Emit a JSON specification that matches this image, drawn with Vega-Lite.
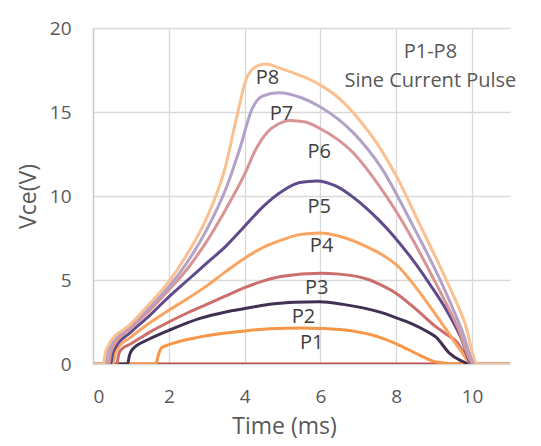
{
"$schema":"https://vega.github.io/schema/vega-lite/v6.json",
"width":417,"height":336,
"autosize":{"type":"none"},
"padding":{"left":93,"top":28,"right":31,"bottom":82},
"background":"white",
"config":{"view":{"stroke":null},"font":"Open Sans",
 "axis":{"gridColor":"#d9d9d9","gridWidth":1.3,"tickSize":0,"labelFontSize":19,"labelColor":"#595959","titleFontSize":23,"titleFontWeight":"normal","titleColor":"#595959","labelFont":"Open Sans","titleFont":"Open Sans"}},
"datasets":{
"curves":[
{"s":"S0","t":0,"v":0},{"s":"S0","t":11,"v":0},
{"s":"S1","t":0,"v":0},{"s":"S1","t":1.66,"v":0},{"s":"S1","t":1.72,"v":0.5},{"s":"S1","t":1.8,"v":0.95},{"s":"S1","t":2,"v":1.15},{"s":"S1","t":2.8,"v":1.6},{"s":"S1","t":3.5,"v":1.85},{"s":"S1","t":4,"v":1.97},{"s":"S1","t":4.66,"v":2.1},{"s":"S1","t":5.5,"v":2.15},{"s":"S1","t":6,"v":2.12},{"s":"S1","t":6.8,"v":1.98},{"s":"S1","t":7.55,"v":1.6},{"s":"S1","t":8.1,"v":1.1},{"s":"S1","t":8.6,"v":0.55},{"s":"S1","t":9.05,"v":0.12},{"s":"S1","t":9.5,"v":0.02},{"s":"S1","t":10,"v":0},{"s":"S1","t":11,"v":0},
{"s":"S2","t":0,"v":0},{"s":"S2","t":0.91,"v":0},{"s":"S2","t":0.96,"v":0.5},{"s":"S2","t":1.03,"v":0.85},{"s":"S2","t":1.5,"v":1.5},{"s":"S2","t":2,"v":2.0},{"s":"S2","t":2.8,"v":2.7},{"s":"S2","t":3.5,"v":3.1},{"s":"S2","t":4,"v":3.3},{"s":"S2","t":4.66,"v":3.55},{"s":"S2","t":5.3,"v":3.68},{"s":"S2","t":5.97,"v":3.7},{"s":"S2","t":6.6,"v":3.55},{"s":"S2","t":7.55,"v":3.1},{"s":"S2","t":8,"v":2.75},{"s":"S2","t":8.4,"v":2.4},{"s":"S2","t":8.8,"v":1.95},{"s":"S2","t":9.05,"v":1.6},{"s":"S2","t":9.4,"v":0.65},{"s":"S2","t":9.7,"v":0.2},{"s":"S2","t":10,"v":0},{"s":"S2","t":11,"v":0},
{"s":"S3","t":0,"v":0},{"s":"S3","t":0.63,"v":0},{"s":"S3","t":0.67,"v":0.5},{"s":"S3","t":0.74,"v":0.85},{"s":"S3","t":1,"v":1.2},{"s":"S3","t":1.5,"v":1.9},{"s":"S3","t":2,"v":2.5},{"s":"S3","t":2.5,"v":3.05},{"s":"S3","t":3,"v":3.55},{"s":"S3","t":3.5,"v":4.05},{"s":"S3","t":4,"v":4.55},{"s":"S3","t":4.5,"v":4.95},{"s":"S3","t":5,"v":5.22},{"s":"S3","t":6,"v":5.4},{"s":"S3","t":6.5,"v":5.35},{"s":"S3","t":7.3,"v":5.0},{"s":"S3","t":7.55,"v":4.75},{"s":"S3","t":8,"v":4.2},{"s":"S3","t":8.6,"v":3.1},{"s":"S3","t":9,"v":2.3},{"s":"S3","t":9.3,"v":1.8},{"s":"S3","t":9.6,"v":1.3},{"s":"S3","t":9.85,"v":0.4},{"s":"S3","t":10,"v":0},{"s":"S3","t":11,"v":0},
{"s":"S4","t":0,"v":0},{"s":"S4","t":0.53,"v":0},{"s":"S4","t":0.57,"v":0.5},{"s":"S4","t":0.64,"v":0.9},{"s":"S4","t":1,"v":1.6},{"s":"S4","t":1.5,"v":2.45},{"s":"S4","t":2,"v":3.2},{"s":"S4","t":2.5,"v":3.9},{"s":"S4","t":3,"v":4.65},{"s":"S4","t":3.5,"v":5.5},{"s":"S4","t":4,"v":6.3},{"s":"S4","t":4.5,"v":6.95},{"s":"S4","t":5,"v":7.4},{"s":"S4","t":5.45,"v":7.7},{"s":"S4","t":6,"v":7.8},{"s":"S4","t":6.5,"v":7.6},{"s":"S4","t":7.2,"v":7.0},{"s":"S4","t":7.55,"v":6.6},{"s":"S4","t":8.1,"v":5.7},{"s":"S4","t":8.4,"v":4.9},{"s":"S4","t":8.8,"v":3.7},{"s":"S4","t":9.3,"v":2.1},{"s":"S4","t":9.7,"v":0.8},{"s":"S4","t":10,"v":0},{"s":"S4","t":11,"v":0},
{"s":"S5","t":0,"v":0},{"s":"S5","t":0.47,"v":0},{"s":"S5","t":0.51,"v":0.55},{"s":"S5","t":0.58,"v":0.95},{"s":"S5","t":1,"v":1.9},{"s":"S5","t":1.5,"v":2.9},{"s":"S5","t":2,"v":4.0},{"s":"S5","t":2.5,"v":5.0},{"s":"S5","t":3,"v":6.0},{"s":"S5","t":3.5,"v":7.0},{"s":"S5","t":4,"v":8.2},{"s":"S5","t":4.5,"v":9.4},{"s":"S5","t":5,"v":10.3},{"s":"S5","t":5.45,"v":10.8},{"s":"S5","t":5.9,"v":10.9},{"s":"S5","t":6.4,"v":10.6},{"s":"S5","t":6.85,"v":9.95},{"s":"S5","t":7.2,"v":9.3},{"s":"S5","t":7.55,"v":8.55},{"s":"S5","t":7.9,"v":7.7},{"s":"S5","t":8.4,"v":6.3},{"s":"S5","t":8.9,"v":4.7},{"s":"S5","t":9.3,"v":3.3},{"s":"S5","t":9.7,"v":1.6},{"s":"S5","t":10,"v":0},{"s":"S5","t":11,"v":0},
{"s":"S6","t":0,"v":0},{"s":"S6","t":0.42,"v":0},{"s":"S6","t":0.46,"v":0.6},{"s":"S6","t":0.53,"v":1.0},{"s":"S6","t":1,"v":2.15},{"s":"S6","t":1.5,"v":3.2},{"s":"S6","t":2,"v":4.4},{"s":"S6","t":2.5,"v":5.7},{"s":"S6","t":3,"v":7.3},{"s":"S6","t":3.5,"v":9.2},{"s":"S6","t":4,"v":11.3},{"s":"S6","t":4.3,"v":12.8},{"s":"S6","t":4.6,"v":13.8},{"s":"S6","t":4.9,"v":14.3},{"s":"S6","t":5.2,"v":14.5},{"s":"S6","t":5.6,"v":14.4},{"s":"S6","t":6,"v":14.0},{"s":"S6","t":6.85,"v":12.6},{"s":"S6","t":7.55,"v":10.6},{"s":"S6","t":8.26,"v":8.1},{"s":"S6","t":9,"v":5.0},{"s":"S6","t":9.6,"v":2.3},{"s":"S6","t":10.05,"v":0},{"s":"S6","t":11,"v":0},
{"s":"S7","t":0,"v":0},{"s":"S7","t":0.34,"v":0},{"s":"S7","t":0.38,"v":0.6},{"s":"S7","t":0.45,"v":1.0},{"s":"S7","t":1,"v":2.3},{"s":"S7","t":1.5,"v":3.4},{"s":"S7","t":2,"v":4.6},{"s":"S7","t":2.5,"v":6.1},{"s":"S7","t":3,"v":8.0},{"s":"S7","t":3.5,"v":10.4},{"s":"S7","t":3.87,"v":12.8},{"s":"S7","t":4.2,"v":15.2},{"s":"S7","t":4.47,"v":15.95},{"s":"S7","t":4.9,"v":16.15},{"s":"S7","t":5.5,"v":15.85},{"s":"S7","t":6,"v":15.3},{"s":"S7","t":6.85,"v":13.8},{"s":"S7","t":7.6,"v":11.7},{"s":"S7","t":8.4,"v":8.4},{"s":"S7","t":9.2,"v":4.8},{"s":"S7","t":9.7,"v":2.2},{"s":"S7","t":10.1,"v":0},{"s":"S7","t":11,"v":0},
{"s":"S8","t":0,"v":0},{"s":"S8","t":0.28,"v":0},{"s":"S8","t":0.32,"v":0.6},{"s":"S8","t":0.39,"v":1.05},{"s":"S8","t":1,"v":2.4},{"s":"S8","t":1.5,"v":3.6},{"s":"S8","t":2,"v":4.9},{"s":"S8","t":2.5,"v":6.6},{"s":"S8","t":3,"v":8.7},{"s":"S8","t":3.5,"v":11.8},{"s":"S8","t":3.8,"v":14.8},{"s":"S8","t":4.05,"v":17.0},{"s":"S8","t":4.3,"v":17.7},{"s":"S8","t":4.55,"v":17.85},{"s":"S8","t":5,"v":17.55},{"s":"S8","t":6,"v":16.6},{"s":"S8","t":6.5,"v":15.8},{"s":"S8","t":7,"v":14.6},{"s":"S8","t":7.5,"v":13.1},{"s":"S8","t":8,"v":11.2},{"s":"S8","t":8.6,"v":8.4},{"s":"S8","t":9.3,"v":5.1},{"s":"S8","t":9.8,"v":2.5},{"s":"S8","t":10.15,"v":0},{"s":"S8","t":11,"v":0}
],
"labels":[
{"label":"P1","t":5.77,"v":1.25},{"label":"P2","t":5.55,"v":2.8},{"label":"P3","t":5.9,"v":4.5},{"label":"P4","t":6.03,"v":7.0},{"label":"P5","t":5.97,"v":9.35},{"label":"P6","t":5.97,"v":12.6},{"label":"P7","t":4.97,"v":14.9},{"label":"P8","t":4.6,"v":17.0}
],
"notes":[
{"label":"P1-P8","t":8.9,"v":18.57},{"label":"Sine Current Pulse","t":8.9,"v":16.85}
]
},
"layer":[
{"data":{"name":"curves"},
 "mark":{"type":"line","interpolate":"monotone","strokeWidth":3,"clip":true},
 "encoding":{
  "x":{"field":"t","type":"quantitative","scale":{"domain":[0,11],"nice":false,"zero":false},
   "axis":{"values":[0,2,4,6,8,10],"grid":true,"domain":false,"labelPadding":23,"title":"Time (ms)","titlePadding":9,"titleX":191}},
  "y":{"field":"v","type":"quantitative","scale":{"domain":[0,20],"nice":false},
   "axis":{"values":[0,5,10,15,20],"grid":true,"domain":true,"domainColor":"#c8c8c8","domainWidth":1.3,"labelPadding":22,"title":"Vce(V)","titlePadding":9}},
  "color":{"field":"s","type":"nominal","legend":null,
   "scale":{"domain":["S0","S1","S2","S3","S4","S5","S6","S7","S8"],
    "range":["#c0504d","#f79646","#403152","#cc6f6c","#f9a461","#5f4b8b","#d99594","#b3a2c7","#fac090"]}}
 }},
{"data":{"name":"labels"},
 "mark":{"type":"text","fontSize":20,"color":"#404040","align":"center","baseline":"middle","font":"Open Sans"},
 "encoding":{"x":{"field":"t","type":"quantitative"},"y":{"field":"v","type":"quantitative"},"text":{"field":"label"}}},
{"data":{"name":"notes"},
 "mark":{"type":"text","fontSize":20,"color":"#595959","align":"center","baseline":"middle","font":"Open Sans"},
 "encoding":{"x":{"field":"t","type":"quantitative"},"y":{"field":"v","type":"quantitative"},"text":{"field":"label"}}}
]
}
